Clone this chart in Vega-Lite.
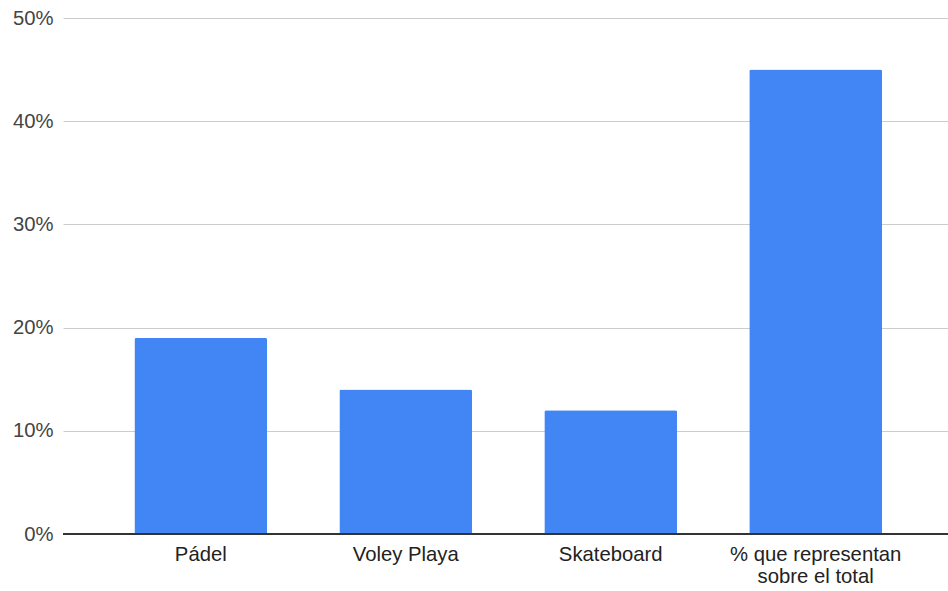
{
  "$schema": "https://vega.github.io/schema/vega-lite/v6.json",
  "width": 885,
  "height": 516,
  "autosize": {"type": "none"},
  "padding": {"left": 63, "top": 18, "right": 0, "bottom": 57},
  "background": "white",
  "config": {"view": {"stroke": null}, "font": "Liberation Sans"},
  "data": {
    "values": [
      {"categoria": "Pádel", "valor": 0.19},
      {"categoria": "Voley Playa", "valor": 0.14},
      {"categoria": "Skateboard", "valor": 0.12},
      {"categoria": "% que representan sobre el total", "valor": 0.45}
    ]
  },
  "layer": [
    {
      "mark": {"type": "bar", "color": "#4285f4", "cornerRadiusTopLeft": 2, "cornerRadiusTopRight": 2},
      "encoding": {
        "x": {
          "field": "categoria",
          "type": "nominal",
          "sort": null,
          "scale": {"paddingInner": 0.352, "paddingOuter": 0.335, "align": 0.52},
          "axis": {
            "title": null,
            "labelAngle": 0,
            "labelFont": "Liberation Sans",
            "labelFontSize": 20.3,
            "labelColor": "#222222",
            "labelPadding": 10,
            "labelLineHeight": 22,
            "ticks": false,
            "domain": false,
            "labelExpr": "datum.value == '% que representan sobre el total' ? ['% que representan', 'sobre el total'] : datum.value"
          }
        },
        "y": {
          "field": "valor",
          "type": "quantitative",
          "scale": {"domain": [0, 0.5], "nice": false},
          "axis": {
            "title": null,
            "format": ".0%",
            "values": [0, 0.1, 0.2, 0.3, 0.4, 0.5],
            "labelFont": "Liberation Sans",
            "labelFontSize": 20.3,
            "labelColor": "#444444",
            "labelPadding": 10,
            "ticks": false,
            "domain": false,
            "gridColor": "#cccccc",
            "gridWidth": 1,
            "gridOpacity": 1
          }
        }
      }
    },
    {
      "mark": {"type": "rule", "color": "#333333", "strokeWidth": 1.5},
      "encoding": {"y": {"datum": 0, "type": "quantitative"}}
    }
  ]
}
